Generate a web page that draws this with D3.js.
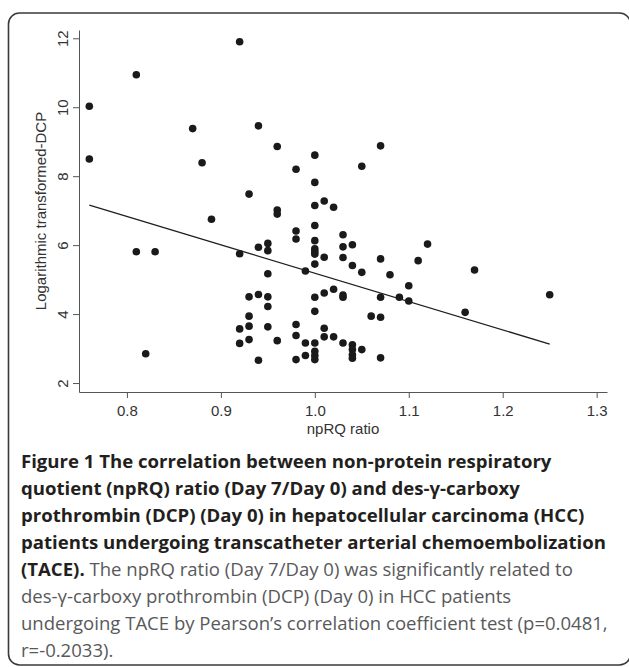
<!DOCTYPE html>
<html>
<head>
<meta charset="utf-8">
<script src="https://cdn.jsdelivr.net/npm/d3@7"></script>
<style>
	body { margin: 0; background: #fff; }
	svg { display: block; }
</style>
</head>
<body>
<script>
// axis ticks
var xTicks = [0.8, 0.9, 1.0, 1.1, 1.2, 1.3];
var yTicks = [2, 4, 6, 8, 10, 12];

// npRQ ratio (Day 7/Day 0), read column by column
var npRQ = [
	0.76, 0.76,
	0.81, 0.81,
	0.82, 0.83, 0.87, 0.88, 0.89,
	0.92, 0.92, 0.92, 0.92,
	0.93, 0.93, 0.93, 0.93, 0.93,
	0.94, 0.94, 0.94, 0.94,
	0.95, 0.95, 0.95, 0.95, 0.95, 0.95,
	0.96, 0.96, 0.96, 0.96,
	0.98, 0.98, 0.98, 0.98, 0.98, 0.98,
	0.99, 0.99, 0.99,
	1.00, 1.00, 1.00, 1.00, 1.00, 1.00, 1.00, 1.00, 1.00, 1.00, 1.00, 1.00, 1.00, 1.00, 1.00,
	1.01, 1.01, 1.01, 1.01, 1.01,
	1.02, 1.02, 1.02,
	1.03, 1.03, 1.03, 1.03, 1.03, 1.03,
	1.04, 1.04, 1.04, 1.04, 1.04, 1.04,
	1.05, 1.05, 1.05,
	1.06,
	1.07, 1.07, 1.07, 1.07, 1.07,
	1.08, 1.09, 1.10, 1.10, 1.11, 1.12, 1.16, 1.17, 1.25
];

// logarithmic transformed DCP (Day 0), same order
var logDCP = [
	10.03, 8.50,
	10.94, 5.81,
	2.85, 5.81, 9.38, 8.39, 6.75,
	11.90, 5.75, 3.57, 3.15,
	7.48, 4.50, 3.94, 3.65, 3.26,
	9.46, 5.94, 4.57, 2.66,
	6.05, 5.84, 5.17, 4.50, 4.22, 3.63,
	8.86, 7.02, 6.90, 3.23,
	8.20, 6.41, 6.18, 3.70, 3.38, 2.68,
	5.25, 3.16, 2.80,
	8.61, 7.82, 7.15, 6.57, 6.13, 5.89, 5.81, 5.74, 5.45, 4.49, 4.08, 3.16, 2.92, 2.80, 2.68,
	7.28, 5.65, 4.61, 3.59, 3.34,
	7.10, 4.72, 3.34,
	6.30, 5.95, 5.64, 4.55, 4.49, 3.16,
	6.01, 5.41, 3.11, 2.97, 2.82, 2.72,
	8.29, 5.21, 2.97,
	3.94,
	8.88, 5.60, 4.49, 3.91, 2.73,
	5.14, 4.49, 4.82, 4.38, 5.55, 6.03, 4.05, 5.28, 4.56
];

// fitted line end points
var fitX = [0.76, 1.25];
var fitY = [7.16, 3.13];

// caption: bold part and regular part per line
var captionBold = [
	"Figure 1 The correlation between non-protein respiratory",
	"quotient (npRQ) ratio (Day 7/Day 0) and des-\u03b3-carboxy",
	"prothrombin (DCP) (Day 0) in hepatocellular carcinoma (HCC)",
	"patients undergoing transcatheter arterial chemoembolization",
	"(TACE).",
	"",
	"",
	""
];
var captionRegular = [
	"",
	"",
	"",
	"",
	" The npRQ ratio (Day 7/Day 0) was significantly related to",
	"des-\u03b3-carboxy prothrombin (DCP) (Day 0) in HCC patients",
	"undergoing TACE by Pearson\u2019s correlation coefficient test (p=0.0481,",
	"r=-0.2033)."
];

var W = 629, H = 667;
var svg = d3.select("body").append("svg")
	.attr("width", W)
	.attr("height", H);

// frame with rounded corners, right side runs off the page
svg.append("rect")
	.attr("x", 8.5)
	.attr("y", 13)
	.attr("width", 622)
	.attr("height", 652)
	.attr("rx", 11)
	.attr("fill", "none")
	.attr("stroke", "#3a3a3a")
	.attr("stroke-width", 1.6);

var margin = {top: 30, left: 79},
	width = 528,
	height = 362,
	g = svg.append("g").attr("transform", "translate(" + margin.left + "," + margin.top + ")");

var x = d3.scaleLinear()
	.domain([0.749, 1.311])
	.range([0, width]);
var y = d3.scaleLinear()
	.domain([1.74, 12.24])
	.range([height, 0]);

var axisFont = "'Liberation Sans', Arial, Helvetica, sans-serif";

var xAxis = g.append("g")
	.attr("transform", "translate(0," + height + ")")
	.call(d3.axisBottom(x).tickValues(xTicks).tickFormat(d3.format(".1f")).tickSizeInner(6).tickSizeOuter(0).tickPadding(4));

var yAxis = g.append("g")
	.call(d3.axisLeft(y).tickValues(yTicks).tickFormat(d3.format("d")).tickSizeInner(6).tickSizeOuter(0));

[xAxis, yAxis].forEach(function(a){
	a.select(".domain").attr("stroke", "#555").attr("stroke-width", 1);
	a.selectAll(".tick line").attr("stroke", "#555").attr("stroke-width", 1);
	a.selectAll(".tick text")
		.attr("font-family", axisFont)
		.attr("font-size", 15)
		.attr("fill", "#333");
});

xAxis.selectAll(".tick text").attr("dy", "0.9em");

// rotated y tick labels
yAxis.selectAll(".tick text")
	.attr("x", null)
	.attr("dy", null)
	.attr("text-anchor", "middle")
	.attr("transform", "translate(-11,0) rotate(-90)");

g.append("text")
	.attr("x", width / 2)
	.attr("y", height + 42)
	.attr("text-anchor", "middle")
	.attr("font-family", axisFont)
	.attr("font-size", 15)
	.attr("fill", "#333")
	.text("npRQ ratio");

g.append("text")
	.attr("transform", "translate(-33," + (height / 2) + ") rotate(-90)")
	.attr("text-anchor", "middle")
	.attr("font-family", axisFont)
	.attr("font-size", 15)
	.attr("fill", "#333")
	.text("Logarithmic transformed-DCP");

// fit line
g.append("line")
	.attr("x1", x(fitX[0]))
	.attr("y1", y(fitY[0]))
	.attr("x2", x(fitX[1]))
	.attr("y2", y(fitY[1]))
	.attr("stroke", "#1e1e1e")
	.attr("stroke-width", 1.3);

// points
g.selectAll(".dot")
	.data(npRQ)
	.enter().append("circle")
		.attr("class", "dot")
		.attr("cx", function(d){return x(d);})
		.attr("cy", function(d, i){return y(logDCP[i]);})
		.attr("r", 3.8)
		.attr("fill", "#1a1a1a");

// caption
var capFont = "'Open Sans', 'Noto Sans', sans-serif";
var cap = svg.append("g").attr("font-family", capFont);
var lines = cap.selectAll("text")
	.data(captionBold)
	.enter().append("text")
		.attr("x", 21)
		.attr("y", function(d, i){return 468 + i * 27;});

lines.append("tspan")
	.attr("class", "b")
	.attr("font-weight", "bold")
	.attr("fill", "#231f20")
	.attr("font-size", 16)
	.text(function(d){return d;});
lines.append("tspan")
	.attr("class", "r")
	.attr("fill", "#58595b")
	.attr("font-size", 16)
	.text(function(d, i){return captionRegular[i];});

// size the caption fonts so the longest lines fill the width
var boldW = lines.filter(function(d, i){return i === 3;}).node().getComputedTextLength();
var regW = lines.filter(function(d, i){return i === 6;}).node().getComputedTextLength();
cap.selectAll("tspan.b").attr("font-size", 16 * 585 / boldW);
cap.selectAll("tspan.r").attr("font-size", 16 * 587 / regW);
</script>
</body>
</html>
